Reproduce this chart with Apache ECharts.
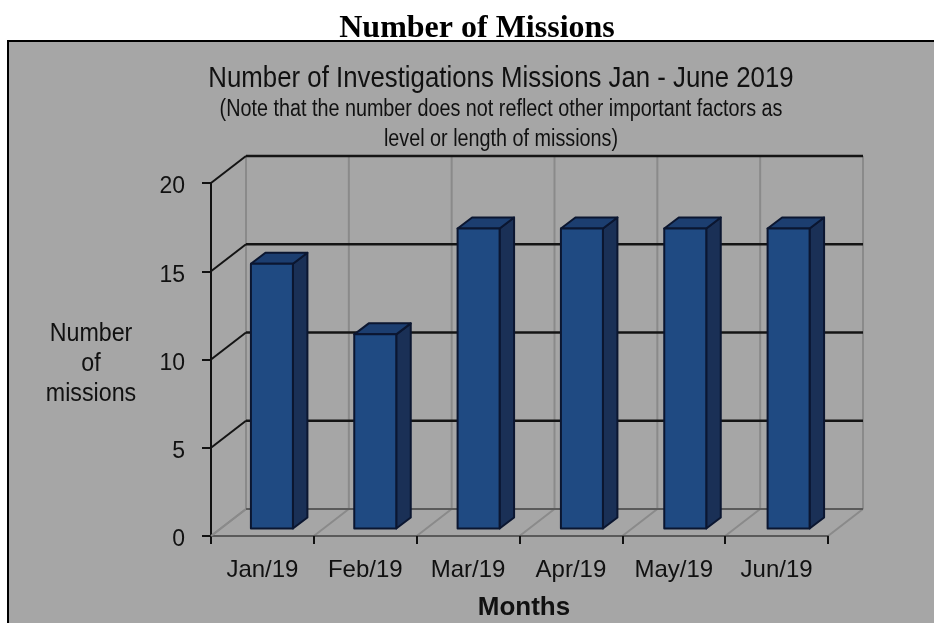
<!DOCTYPE html>
<html>
<head>
<meta charset="utf-8">
<style>html,body{margin:0;padding:0;background:#fff}#c{width:934px;height:623px}</style>
<script src="https://cdn.jsdelivr.net/npm/echarts@6/dist/echarts.min.js"></script>
</head>
<body>
<div id="c"></div>
<script>
var categories = ['Jan/19','Feb/19','Mar/19','Apr/19','May/19','Jun/19'];
var missions = [15, 11, 17, 17, 17, 17];
var gridValues = [0, 5, 10, 15, 20];

var SANS = '"Liberation Sans",Arial,sans-serif';
var WALL = [35, -27], BAR_SHIFT = [9.5, -7.5], BAR_SPREAD = 0.5, BAR_DEPTH = [14.5, -11], BAR_W = 42;
var INK = '#141414', MID = '#5a5a5a', SOFT = '#8a8a8a';

function line(pts, color, width) {
  return { type: 'polyline', shape: { points: pts }, style: { stroke: color, lineWidth: width, fill: null } };
}
function poly(pts, fill) {
  return { type: 'polygon', shape: { points: pts }, style: { fill: fill, stroke: '#0b1630', lineWidth: 2, lineJoin: 'round' } };
}
function label(text, x, y, size, scaleX, weight, lineHeight) {
  return { type: 'text', x: x, y: y, scaleX: scaleX, z: 5, silent: true,
    style: { text: text, fontFamily: SANS, fontSize: size, fontWeight: weight || 'normal', lineHeight: lineHeight,
      fill: '#111', align: 'center', verticalAlign: 'middle' } };
}

var chart = echarts.init(document.getElementById('c'), null, { renderer: 'canvas' });
chart.setOption({
  animation: false,
  backgroundColor: '#fff',
  title: {
    text: 'Number of Missions', left: 477, top: 13, padding: 0, textAlign: 'center',
    textStyle: { fontFamily: '"Liberation Serif","Times New Roman",serif', fontWeight: 'bold', fontSize: 32, color: '#000' }
  },
  graphic: [
    { type: 'rect', z: -10, silent: true,
      shape: { x: 8, y: 41, width: 960, height: 640 },
      style: { fill: '#a6a6a6', stroke: '#000', lineWidth: 2 } },
    label('Number of Investigations Missions Jan - June 2019', 501, 79, 29, 0.89),
    label('(Note that the number does not reflect other important factors as', 501, 110, 23, 0.86),
    label('level or length of missions)', 501, 140, 23, 0.86),
    label('Number\nof\nmissions', 91, 364, 25, 0.93, 'normal', 30),
    label('Months', 524, 608, 26, 1, 'bold')
  ],
  grid: { left: 211, right: 106, top: 183, bottom: 87 },
  xAxis: {
    type: 'category', data: categories, boundaryGap: true,
    axisLine: { lineStyle: { color: MID, width: 2 } },
    axisTick: { show: true, length: 8, lineStyle: { color: '#111', width: 2 } },
    axisLabel: { fontFamily: SANS, fontSize: 24, color: '#111', margin: 22, interval: 0 }
  },
  yAxis: {
    type: 'value', min: 0, max: 20, interval: 5,
    axisLine: { show: true, lineStyle: { color: '#111', width: 2 } },
    axisTick: { show: true, length: 9, lineStyle: { color: '#111', width: 2 } },
    axisLabel: { fontFamily: SANS, fontSize: 23, color: '#111', margin: 26, verticalAlign: 'top', lineHeight: 8 },
    splitLine: { show: false }
  },
  series: [
    { // back wall and side wall lines at every value tick
      type: 'custom', z: 1, silent: true, data: gridValues,
      encode: { y: 0 },
      renderItem: function (params, api) {
        var v = api.value(0), band = api.size([1, 0])[0];
        var a = api.coord([0, v]); a[0] -= band / 2;
        var b = api.coord([categories.length - 1, v]); b[0] += band / 2;
        var p = [a[0] + WALL[0], a[1] + WALL[1]], q = [b[0] + WALL[0], b[1] + WALL[1]];
        return { type: 'group', children: [
          line([a, p], v === 0 ? SOFT : INK, 2),
          line([p, q], v === 0 ? MID : INK, v === 0 ? 2 : 2.4)
        ] };
      }
    },
    { // back wall verticals and floor diagonals at every category boundary
      type: 'custom', z: 0, silent: true, data: categories.map(function (c, i) { return [i, 0]; }),
      encode: { x: 0, y: 1 },
      renderItem: function (params, api) {
        var i = api.value(0), band = api.size([1, 0])[0], kids = [];
        function at(x) {
          var b = api.coord([i, 0]), t = api.coord([i, 20]);
          var bx = b[0] + x, by = b[1];
          kids.push(line([[bx + WALL[0], by + WALL[1]], [bx + WALL[0], t[1] + WALL[1]]], SOFT, 2));
          kids.push(line([[bx, by], [bx + WALL[0], by + WALL[1]]], SOFT, 2));
        }
        at(-band / 2);
        if (i === categories.length - 1) at(band / 2);
        return { type: 'group', children: kids };
      }
    },
    { // the bars, drawn as three faces
      type: 'custom', z: 3, data: missions.map(function (m, i) { return [i, m]; }),
      encode: { x: 0, y: 1 },
      renderItem: function (params, api) {
        var i = api.value(0);
        var t = api.coord([i, api.value(1)]), b = api.coord([i, 0]);
        var l = t[0] + BAR_SHIFT[0] + i * BAR_SPREAD - BAR_W / 2, r = l + BAR_W;
        var top = t[1] + BAR_SHIFT[1], bot = b[1] + BAR_SHIFT[1];
        var dx = BAR_DEPTH[0], dy = BAR_DEPTH[1];
        return { type: 'group', children: [
          poly([[r, top], [r + dx, top + dy], [r + dx, bot + dy], [r, bot]], '#1a3056'),
          poly([[l, top], [l + dx, top + dy], [r + dx, top + dy], [r, top]], '#1c3e70'),
          poly([[l, top], [r, top], [r, bot], [l, bot]], '#1f4a82')
        ] };
      }
    }
  ]
});
</script>
</body>
</html>
